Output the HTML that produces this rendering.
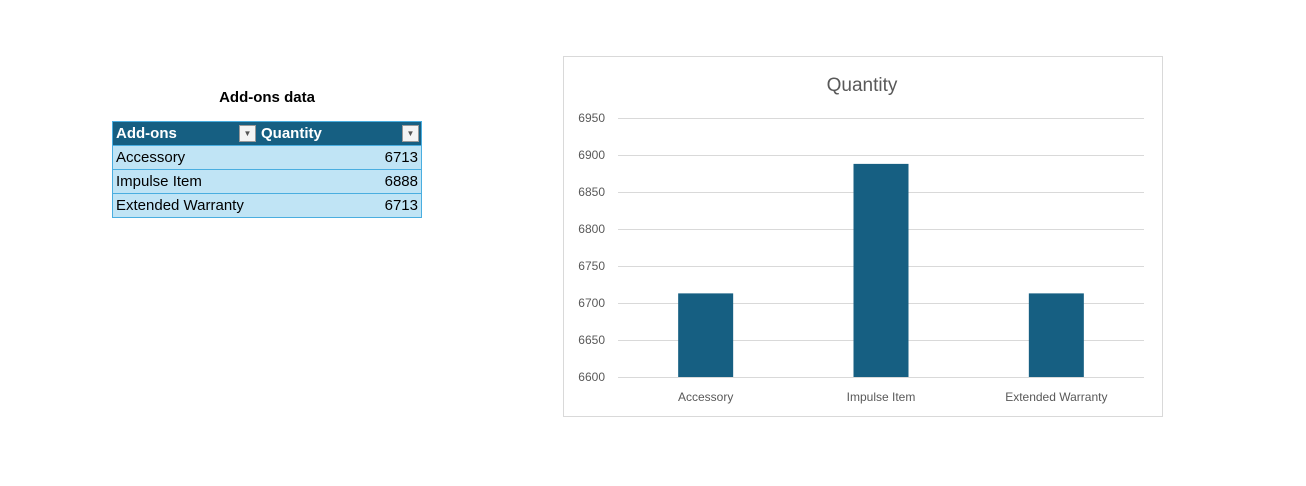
<!DOCTYPE html>
<html><head><meta charset="utf-8"><style>
body{margin:0;width:1306px;height:486px;background:#fff;font-family:"Liberation Sans",sans-serif;position:relative;overflow:hidden}
.abs{position:absolute}
.title{left:112px;width:310px;top:89px;text-align:center;font-weight:bold;font-size:15px;color:#000}
table{position:absolute;left:112px;top:121px;border-collapse:collapse;width:310px;font-size:15px}
td{height:23px;padding:0 3px;border:1px solid #4aaee0;background:#c0e4f5;color:#000}
th{height:23px;padding:0 3px;background:#165f82;color:#fff;text-align:left;border:1px solid #4aaee0;position:relative}
.dd{position:absolute;right:2px;top:3px;width:17px;height:17px;background:#f4f4f4;border:1px solid #999;box-sizing:border-box;font-size:8px;color:#555;text-align:center;line-height:16px}
</style></head><body>
<div class="abs title">Add-ons data</div>
<table>
<tr><th style="width:139px;border-right:none">Add-ons<span class="dd">▼</span></th><th style="border-left:none">Quantity<span class="dd">▼</span></th></tr>
<tr><td style="border-right:none">Accessory</td><td style="text-align:right;border-left:none">6713</td></tr>
<tr><td style="border-right:none">Impulse Item</td><td style="text-align:right;border-left:none">6888</td></tr>
<tr><td style="border-right:none">Extended Warranty</td><td style="text-align:right;border-left:none">6713</td></tr>
</table>
<svg class="abs" style="left:0;top:0" width="1306" height="486" id="chart">
<rect x="563.5" y="56.5" width="599" height="360" fill="#fff" stroke="#d9d9d9"/>
<text x="862" y="91" text-anchor="middle" font-size="19" fill="#595959" font-family="Liberation Sans">Quantity</text>
</svg>
<script>
const categories=["Accessory","Impulse Item","Extended Warranty"];
const values=[6713,6888,6713];
const ticks=[6600,6650,6700,6750,6800,6850,6900,6950];
const svg=document.getElementById('chart');const NS='http://www.w3.org/2000/svg';
const x0=618,x1=1144,yMin=6600,yMax=6950,py0=377,py1=118;
const y=v=>py0-(v-yMin)/(yMax-yMin)*(py0-py1);
const band=(x1-x0)/categories.length;
const cx=i=>x0+band*(i+0.5);
function mk(t,a){const e=document.createElementNS(NS,t);for(const k in a)e.setAttribute(k,a[k]);svg.appendChild(e);return e;}
ticks.forEach(t=>{
 const l=mk('line',{x1:x0,x2:x1,y1:y(t)+0.5,y2:y(t)+0.5,stroke:'#d9d9d9'});
 
 
 const tx=mk('text',{x:605,y:y(t)+4,'text-anchor':'end','font-size':12,fill:'#595959','font-family':'Liberation Sans'});
 tx.textContent=t;
 
 
});
values.forEach((v,i)=>{
 const r=mk('rect',{x:cx(i)-27.5,y:y(v),width:55,height:y(yMin)-y(v),fill:'#165f82'});
 
 
 const tx=mk('text',{x:cx(i),y:401,'text-anchor':'middle','font-size':12,fill:'#595959','font-family':'Liberation Sans'});
 tx.textContent=categories[i];
 
 
});
</script>
</body></html>
